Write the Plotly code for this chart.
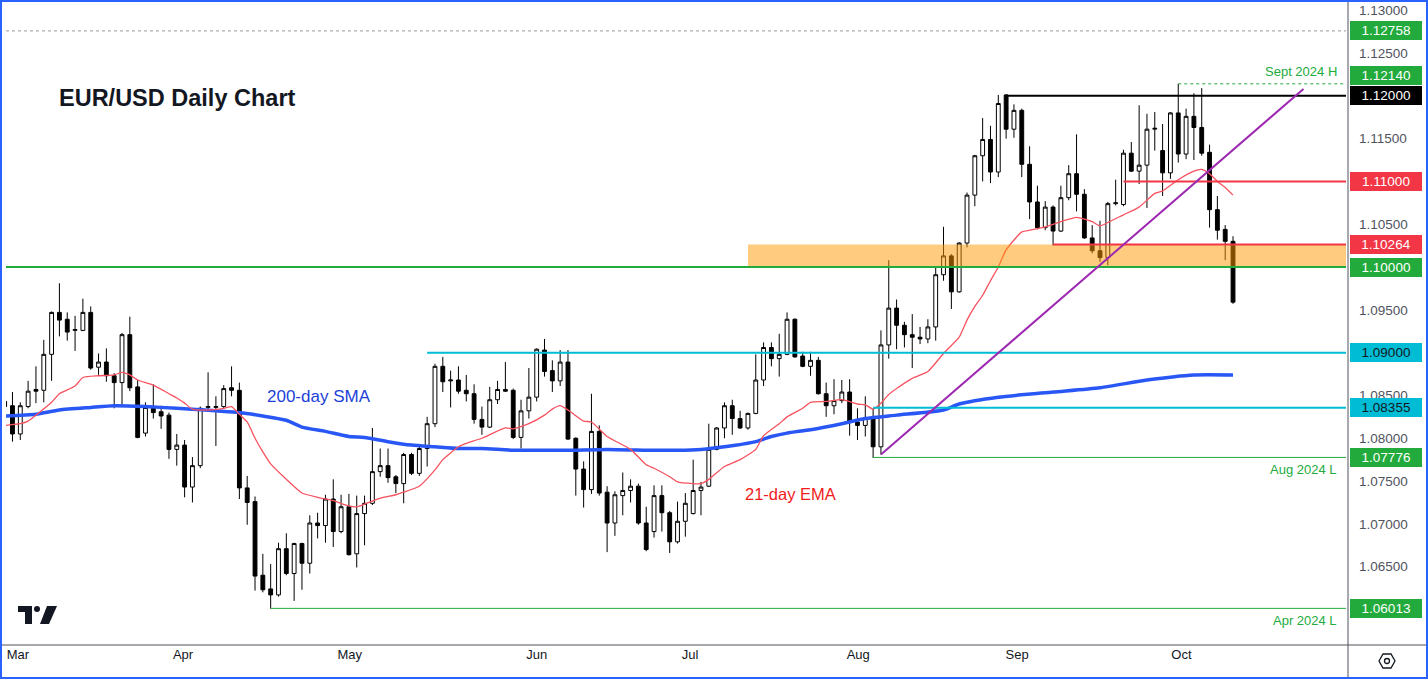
import plotly.graph_objects as go
import pandas as pd

# ---------------- data ----------------
dates = pd.bdate_range("2024-02-28", "2024-10-04")

opens = [1.0843, 1.0838, 1.0805, 1.0837, 1.0857, 1.0856, 1.0898, 1.0947, 1.0939, 1.0926,
         1.0926, 1.0947, 1.0883, 1.0889, 1.0873, 1.0865, 1.0921, 1.0860, 1.0806, 1.0837,
         1.0831, 1.0827, 1.0787, 1.0792, 1.0743, 1.0768, 1.0836, 1.0836, 1.0837, 1.0859,
         1.0856, 1.0742, 1.0726, 1.0640, 1.0624, 1.0617, 1.0671, 1.0642, 1.0677, 1.0654,
         1.0701, 1.0698, 1.0729, 1.0691, 1.0720, 1.0665, 1.0712, 1.0724, 1.0761, 1.0768,
         1.0755, 1.0747, 1.0781, 1.0759, 1.0788, 1.0817, 1.0884, 1.0867, 1.0868, 1.0856,
         1.0852, 1.0822, 1.0813, 1.0845, 1.0857, 1.0856, 1.0801, 1.0832, 1.0848, 1.0903,
         1.0879, 1.0867, 1.0889, 1.0800, 1.0764, 1.0740, 1.0808, 1.0737, 1.0701, 1.0733,
         1.0739, 1.0744, 1.0701, 1.0691, 1.0733, 1.0713, 1.0679, 1.0703, 1.0712, 1.0739,
         1.0744, 1.0787, 1.0812, 1.0838, 1.0823, 1.0812, 1.0829, 1.0868, 1.0906, 1.0893,
         1.0898, 1.0939, 1.0896, 1.0884, 1.0891, 1.0852, 1.0838, 1.0844, 1.0854, 1.0819,
         1.0815, 1.0824, 1.0790, 1.0909, 1.0952, 1.0932, 1.0921, 1.0918, 1.0916, 1.0930,
         1.0991, 1.1013, 1.0971, 1.1028, 1.1084, 1.1130, 1.1149, 1.1111, 1.1201, 1.1161,
         1.1183, 1.1120, 1.1076, 1.1046, 1.1070, 1.1042, 1.1081, 1.1109, 1.1085, 1.1034,
         1.1019, 1.1011, 1.1074, 1.1073, 1.1133, 1.1112, 1.1119, 1.1161, 1.1136, 1.1110,
         1.1180, 1.1132, 1.1176, 1.1163, 1.1134, 1.1067, 1.1044, 1.1030]
highs = [1.0846, 1.0854, 1.0842, 1.0867, 1.0884, 1.0915, 1.0948, 1.0981, 1.0947, 1.0943,
         1.0963, 1.0954, 1.0899, 1.0905, 1.0876, 1.0923, 1.0942, 1.0868, 1.0842, 1.0863,
         1.0838, 1.0830, 1.0805, 1.0798, 1.0778, 1.0837, 1.0877, 1.0849, 1.0862, 1.0884,
         1.0865, 1.0756, 1.0732, 1.0665, 1.0653, 1.0678, 1.0689, 1.0678, 1.0678, 1.0710,
         1.0713, 1.0734, 1.0752, 1.0734, 1.0735, 1.0733, 1.0733, 1.0812, 1.0788, 1.0788,
         1.0757, 1.0783, 1.0783, 1.0791, 1.0825, 1.0887, 1.0895, 1.0879, 1.0884, 1.0874,
         1.0863, 1.0837, 1.0860, 1.0867, 1.0889, 1.0858, 1.0845, 1.0882, 1.0905, 1.0916,
         1.0891, 1.0903, 1.0903, 1.0801, 1.0773, 1.0852, 1.0815, 1.0744, 1.0738, 1.0760,
         1.0752, 1.0747, 1.0720, 1.0745, 1.0745, 1.0715, 1.0726, 1.0736, 1.0775, 1.0749,
         1.0817, 1.0813, 1.0842, 1.0845, 1.0832, 1.0830, 1.0898, 1.0912, 1.0912, 1.0922,
         1.0947, 1.0940, 1.0901, 1.0901, 1.0895, 1.0865, 1.0869, 1.0868, 1.0869, 1.0835,
         1.0849, 1.0835, 1.0926, 1.1008, 1.0962, 1.0936, 1.0945, 1.0930, 1.0939, 1.0999,
         1.1047, 1.1015, 1.1029, 1.1087, 1.1131, 1.1174, 1.1165, 1.1201, 1.1202, 1.1190,
         1.1185, 1.1141, 1.1095, 1.1077, 1.1072, 1.1095, 1.1119, 1.1155, 1.1091, 1.1049,
         1.1054, 1.1076, 1.1102, 1.1137, 1.1146, 1.1189, 1.1179, 1.1181, 1.1167, 1.1181,
         1.1214, 1.1185, 1.1203, 1.1209, 1.1143, 1.1083, 1.1049, 1.1036]
lows = [1.0835, 1.0796, 1.0798, 1.0835, 1.0841, 1.0842, 1.0867, 1.0919, 1.0914, 1.0902,
        1.0925, 1.0880, 1.0874, 1.0866, 1.0835, 1.0837, 1.0855, 1.0800, 1.0802, 1.0823,
        1.0811, 1.0776, 1.0768, 1.0731, 1.0725, 1.0765, 1.0834, 1.0791, 1.0835, 1.0849,
        1.0729, 1.0699, 1.0622, 1.0620, 1.0601, 1.0615, 1.0640, 1.0610, 1.0623, 1.0642,
        1.0683, 1.0678, 1.0673, 1.0689, 1.0663, 1.0649, 1.0675, 1.0722, 1.0755, 1.0748,
        1.0736, 1.0724, 1.0757, 1.0756, 1.0767, 1.0813, 1.0854, 1.0836, 1.0852, 1.0843,
        1.0817, 1.0804, 1.0812, 1.0840, 1.0854, 1.0799, 1.0788, 1.0823, 1.0843, 1.0872,
        1.0854, 1.0861, 1.0798, 1.0733, 1.0719, 1.0735, 1.0733, 1.0667, 1.0686, 1.0710,
        1.0725, 1.0699, 1.0668, 1.0684, 1.0691, 1.0666, 1.0677, 1.0685, 1.0711, 1.0710,
        1.0743, 1.0786, 1.0800, 1.0804, 1.0811, 1.0810, 1.0828, 1.0861, 1.0884, 1.0872,
        1.0897, 1.0894, 1.0883, 1.0873, 1.0851, 1.0825, 1.0828, 1.0841, 1.0803, 1.0798,
        1.0802, 1.0777, 1.0781, 1.0893, 1.0904, 1.0906, 1.0882, 1.0910, 1.0911, 1.0914,
        1.0984, 1.0951, 1.0970, 1.1023, 1.1071, 1.1100, 1.1098, 1.1105, 1.1150, 1.1151,
        1.1105, 1.1056, 1.1044, 1.1043, 1.1025, 1.1041, 1.1078, 1.1065, 1.1033, 1.1016,
        1.1006, 1.1002, 1.1072, 1.1071, 1.1111, 1.1097, 1.1069, 1.1136, 1.1083, 1.1103,
        1.1122, 1.1126, 1.1125, 1.1130, 1.1046, 1.1032, 1.1008, 1.0957]
closes = [1.0837, 1.0805, 1.0838, 1.0855, 1.0855, 1.0898, 1.0947, 1.0938, 1.0924, 1.0927,
          1.0947, 1.0882, 1.0889, 1.0873, 1.0865, 1.0921, 1.0859, 1.0801, 1.0836, 1.0830,
          1.0826, 1.0787, 1.0792, 1.0743, 1.0768, 1.0835, 1.0837, 1.0837, 1.0858, 1.0856,
          1.0742, 1.0725, 1.0639, 1.0623, 1.0617, 1.0671, 1.0642, 1.0677, 1.0654, 1.0701,
          1.0698, 1.0729, 1.0691, 1.0720, 1.0664, 1.0712, 1.0724, 1.0761, 1.0768, 1.0754,
          1.0747, 1.0781, 1.0759, 1.0788, 1.0817, 1.0884, 1.0866, 1.0868, 1.0855, 1.0852,
          1.0822, 1.0813, 1.0845, 1.0857, 1.0855, 1.0801, 1.0832, 1.0848, 1.0904, 1.0878,
          1.0867, 1.0889, 1.0799, 1.0764, 1.0740, 1.0808, 1.0736, 1.0701, 1.0734, 1.0739,
          1.0744, 1.0701, 1.0670, 1.0733, 1.0713, 1.0679, 1.0703, 1.0724, 1.0739, 1.0743,
          1.0787, 1.0812, 1.0838, 1.0823, 1.0812, 1.0829, 1.0868, 1.0906, 1.0893, 1.0898,
          1.0939, 1.0895, 1.0884, 1.0891, 1.0852, 1.0838, 1.0844, 1.0854, 1.0819, 1.0815,
          1.0824, 1.0790, 1.0909, 1.0952, 1.0932, 1.0921, 1.0918, 1.0916, 1.0930, 1.0991,
          1.1013, 1.0971, 1.1028, 1.1084, 1.1130, 1.1149, 1.1111, 1.1191, 1.1161, 1.1183,
          1.1120, 1.1076, 1.1046, 1.1070, 1.1042, 1.1081, 1.1109, 1.1085, 1.1034, 1.1019,
          1.1011, 1.1074, 1.1075, 1.1133, 1.1112, 1.1119, 1.1161, 1.1162, 1.1110, 1.1180,
          1.1132, 1.1176, 1.1163, 1.1133, 1.1067, 1.1043, 1.1030, 1.0959]

# 21-day EMA (bar number, value)
ema_bar = [0, 2, 3, 6, 7, 9, 10, 12, 14, 15, 16, 17, 19, 21, 22, 23, 24, 26, 28, 29,
           30, 31, 32, 33, 34, 36, 38, 40, 42, 44, 45, 46, 48, 50, 51, 53, 55, 56, 58, 59,
           61, 64, 65, 67, 69, 70, 71, 72, 74, 75, 77, 80, 82, 83, 85, 86, 88, 89, 90, 92,
           94, 96, 97, 99, 100, 102, 103, 105, 107, 109, 110, 111, 112, 113, 114, 116, 118, 120, 122, 123,
           124, 125, 126, 127, 128, 130, 131, 133, 135, 137, 139, 140, 141, 143, 145, 147, 148, 150, 152, 153,
           154, 155, 156, 157]
ema_val = [1.0815, 1.0817, 1.0820, 1.0842, 1.0852, 1.0861, 1.0871, 1.0873, 1.0874, 1.0877,
           1.0874, 1.0868, 1.0862, 1.0852, 1.0847, 1.0841, 1.0834, 1.0833, 1.0835, 1.0837,
           1.0828, 1.0819, 1.0800, 1.0784, 1.0770, 1.0752, 1.0736, 1.0731, 1.0727, 1.0721,
           1.0720, 1.0723, 1.0730, 1.0734, 1.0737, 1.0744, 1.0763, 1.0775, 1.0790, 1.0794,
           1.0800, 1.0812, 1.0811, 1.0817, 1.0827, 1.0834, 1.0838, 1.0833, 1.0820, 1.0819,
           1.0802, 1.0787, 1.0769, 1.0765, 1.0755, 1.0749, 1.0747, 1.0747, 1.0752, 1.0767,
           1.0775, 1.0787, 1.0803, 1.0817, 1.0825, 1.0835, 1.0842, 1.0843, 1.0845, 1.0840,
           1.0839, 1.0834, 1.0841, 1.0851, 1.0858, 1.0870, 1.0878, 1.0899, 1.0918, 1.0938,
           1.0954, 1.0967, 1.0984, 1.1000, 1.1020, 1.1041, 1.1043, 1.1047, 1.1053, 1.1058,
           1.1053, 1.1048, 1.1052, 1.1061, 1.1070, 1.1086, 1.1089, 1.1102, 1.1112, 1.1114,
           1.1109, 1.1100, 1.1093, 1.1084]

# 200-day SMA (bar number, value)
sma_bar = [0, 4, 7, 11, 14, 18, 22, 24, 27, 30, 33, 36, 38, 41, 44, 46, 49, 52, 55, 58,
           61, 65, 69, 72, 77, 83, 86, 89, 92, 96, 98, 100, 103, 107, 110, 114, 120, 122, 127, 134,
           140, 146, 152, 157]
sma_val = [1.0826, 1.0828, 1.0833, 1.0836, 1.0838, 1.0837, 1.0835, 1.0834, 1.0832, 1.0830,
           1.0826, 1.0821, 1.0813, 1.0808, 1.0802, 1.0801, 1.0796, 1.0792, 1.0790, 1.0788,
           1.0788, 1.0786, 1.0786, 1.0786, 1.0787, 1.0786, 1.0786, 1.0787, 1.0790, 1.0796,
           1.0802, 1.0806, 1.0810, 1.0817, 1.0823, 1.0827, 1.0833, 1.0840, 1.0848, 1.0854,
           1.0859, 1.0868, 1.0874, 1.0874]

month_labels = ["Mar", "Apr", "May", "Jun", "Jul", "Aug", "Sep", "Oct"]
month_pos = [1.7, 22.8, 44.1, 68.0, 87.6, 109.1, 129.4, 150.4]

price_ticks = [1.13, 1.125, 1.115, 1.105, 1.095, 1.085, 1.08, 1.075, 1.07, 1.065]

# horizontal levels
level_price = [1.12758, 1.12140, 1.12000, 1.11000, 1.10264, 1.10000, 1.09000, 1.08355, 1.07776, 1.06013]
level_start = [None, 150, 128, 143, 134, None, 54, 111, 111, 34]
level_color = ["#9598a1", "#22ab3c", "#000000", "#f23645", "#f23645", "#22ab3c",
               "#00bcd4", "#00bcd4", "#22ab3c", "#22ab3c"]
level_width = [1, 1, 2, 2, 2, 2, 2, 2, 1, 1]
level_dash = ["dot", "dot", "solid", "solid", "solid", "solid", "solid", "solid", "solid", "solid"]
# price-scale label boxes (the 1.12140 box is nudged up to clear the 1.12000 box)
label_pos = [1.12758, 1.12243, 1.12000, 1.11000, 1.10264, 1.10000, 1.09000, 1.08355, 1.07776, 1.06013]
label_bg = ["#22ab3c", "#22ab3c", "#000000", "#f23645", "#f23645", "#22ab3c",
            "#00bcd4", "#00bcd4", "#22ab3c", "#22ab3c"]
label_fg = ["white", "white", "white", "white", "white", "white",
            "#131722", "#131722", "white", "white"]

zone_start, zone_low, zone_high = 95, 1.10000, 1.10264
trend_bar = [112, 166]
trend_val = [1.0781, 1.1208]

# ---------------- figure ----------------
W, H = 1428, 679
ML, MR, MT, MB = 6, 82, 3, 34
PW, PH = W - ML - MR, H - MT - MB
FONT = "Liberation Sans, Arial, sans-serif"


def px(x):
    return (x - ML) / PW


def py(y):
    return (H - MB - y) / PH


xb = list(range(len(dates)))
fig = go.Figure()
fig.add_trace(go.Candlestick(
    x=xb, open=opens, high=highs, low=lows, close=closes,
    increasing=dict(line=dict(color="#000000", width=1), fillcolor="#ffffff"),
    decreasing=dict(line=dict(color="#000000", width=1), fillcolor="#000000"),
    whiskerwidth=0, hoverinfo="skip", showlegend=False))
fig.add_trace(go.Scatter(x=sma_bar, y=sma_val, mode="lines",
                         line=dict(color="#2957f5", width=3.5, shape="spline", smoothing=0.6),
                         hoverinfo="skip", showlegend=False))
fig.add_trace(go.Scatter(x=ema_bar, y=ema_val, mode="lines",
                         line=dict(color="#f7525f", width=1.3, shape="spline", smoothing=0.5),
                         hoverinfo="skip", showlegend=False))

shapes = []
shapes.append(dict(type="rect", xref="x", yref="y", x0=zone_start, x1=200, y0=zone_low, y1=zone_high,
                   fillcolor="rgba(255,152,0,0.5)", line=dict(width=0), layer="above"))
for p, s, c, w, d in zip(level_price, level_start, level_color, level_width, level_dash):
    if s is None:
        shapes.append(dict(type="line", xref="paper", yref="y", x0=0, x1=1, y0=p, y1=p,
                           line=dict(color=c, width=w, dash=d)))
    else:
        shapes.append(dict(type="line", xref="x", yref="y", x0=s, x1=200, y0=p, y1=p,
                           line=dict(color=c, width=w, dash=d)))
shapes.append(dict(type="line", xref="x", yref="y", x0=trend_bar[0], x1=trend_bar[1],
                   y0=trend_val[0], y1=trend_val[1], line=dict(color="#9c27b0", width=2)))
# frame lines
shapes.append(dict(type="line", xref="paper", yref="paper", x0=px(1348), x1=px(1348), y0=py(0), y1=py(679),
                   line=dict(color="#50535e", width=1)))
shapes.append(dict(type="line", xref="paper", yref="paper", x0=px(0), x1=px(1428), y0=py(645), y1=py(645),
                   line=dict(color="#50535e", width=1)))
shapes.append(dict(type="rect", xref="paper", yref="paper", x0=px(1), x1=px(1427), y0=py(1), y1=py(678),
                   line=dict(color="#2962ff", width=2)))
# TradingView logo
logo_t = (f"M {px(18)},{py(606)} L {px(32)},{py(606)} L {px(32)},{py(624)} L {px(25)},{py(624)} "
          f"L {px(25)},{py(612)} L {px(18)},{py(612)} Z")
shapes.append(dict(type="path", xref="paper", yref="paper", path=logo_t, fillcolor="#131722", line=dict(width=0)))
shapes.append(dict(type="circle", xref="paper", yref="paper", x0=px(34), x1=px(40), y0=py(606), y1=py(612),
                   fillcolor="#131722", line=dict(width=0)))
logo_r = f"M {px(47)},{py(606)} L {px(57)},{py(606)} L {px(49)},{py(624)} L {px(40)},{py(624)} Z"
shapes.append(dict(type="path", xref="paper", yref="paper", path=logo_r, fillcolor="#131722", line=dict(width=0)))
# settings icon
gx, gy = 1387, 661
hexp = (f"M {px(gx-8)},{py(gy)} L {px(gx-4)},{py(gy-7)} L {px(gx+4)},{py(gy-7)} L {px(gx+8)},{py(gy)} "
        f"L {px(gx+4)},{py(gy+7)} L {px(gx-4)},{py(gy+7)} Z")
shapes.append(dict(type="path", xref="paper", yref="paper", path=hexp, line=dict(color="#131722", width=1.3)))
shapes.append(dict(type="circle", xref="paper", yref="paper", x0=px(gx-2.5), x1=px(gx+2.5),
                   y0=py(gy-2.5), y1=py(gy+2.5), line=dict(color="#131722", width=1.3)))

annotations = []
for p, lp, bg, fg in zip(level_price, label_pos, label_bg, label_fg):
    annotations.append(dict(xref="paper", yref="y", x=px(1386), y=lp, text=f"{p:.5f}", showarrow=False,
                            xanchor="center", yanchor="middle", bgcolor=bg, bordercolor=bg, borderpad=1,
                            width=68, height=15, font=dict(family=FONT, size=13.5, color=fg)))
annotations += [
    dict(xref="paper", yref="paper", x=px(57), y=py(98), text="<b>EUR/USD Daily Chart</b>", showarrow=False,
         xanchor="left", yanchor="middle", font=dict(family=FONT, size=23.5, color="#131722")),
    dict(xref="paper", yref="paper", x=px(265), y=py(396), text="200-day SMA", showarrow=False,
         xanchor="left", yanchor="middle", font=dict(family=FONT, size=17, color="#1c3fd8")),
    dict(xref="paper", yref="paper", x=px(743), y=py(494), text="21-day EMA", showarrow=False,
         xanchor="left", yanchor="middle", font=dict(family=FONT, size=16.5, color="#f01c1c")),
    dict(xref="paper", yref="paper", x=px(1339), y=py(71), text="Sept 2024 H", showarrow=False,
         xanchor="right", yanchor="middle", font=dict(family=FONT, size=13, color="#22ab3c")),
    dict(xref="paper", yref="paper", x=px(1339), y=py(469), text="Aug 2024 L", showarrow=False,
         xanchor="right", yanchor="middle", font=dict(family=FONT, size=13, color="#22ab3c")),
    dict(xref="paper", yref="paper", x=px(1339), y=py(620), text="Apr 2024 L", showarrow=False,
         xanchor="right", yanchor="middle", font=dict(family=FONT, size=13, color="#22ab3c")),
]

x_left = (ML - 20.3) / 7.824 + 2
fig.update_layout(
    width=W, height=H, margin=dict(l=ML, r=MR, t=MT, b=MB, autoexpand=False),
    paper_bgcolor="white", plot_bgcolor="white", showlegend=False,
    shapes=shapes, annotations=annotations,
    xaxis=dict(range=[x_left, x_left + PW / 7.824], rangeslider=dict(visible=False), showgrid=False,
               zeroline=False, tickmode="array", tickvals=month_pos, ticktext=month_labels,
               ticks="", tickfont=dict(family=FONT, size=13, color="#131722"),
               showline=False, fixedrange=True, automargin=False),
    yaxis=dict(range=[1.05585, 1.13084], side="right", showgrid=False, zeroline=False,
               tickmode="array", tickvals=price_ticks, ticktext=[f"{v:.5f}" for v in price_ticks],
               ticks="", ticklabelstandoff=12,
               tickfont=dict(family=FONT, size=13.5, color="#50535e"), showline=False,
               fixedrange=True, automargin=False),
)

fig.write_html("out.html", config={"displayModeBar": False},
               post_script="document.body.style.margin='0';document.body.style.overflow='hidden';")
